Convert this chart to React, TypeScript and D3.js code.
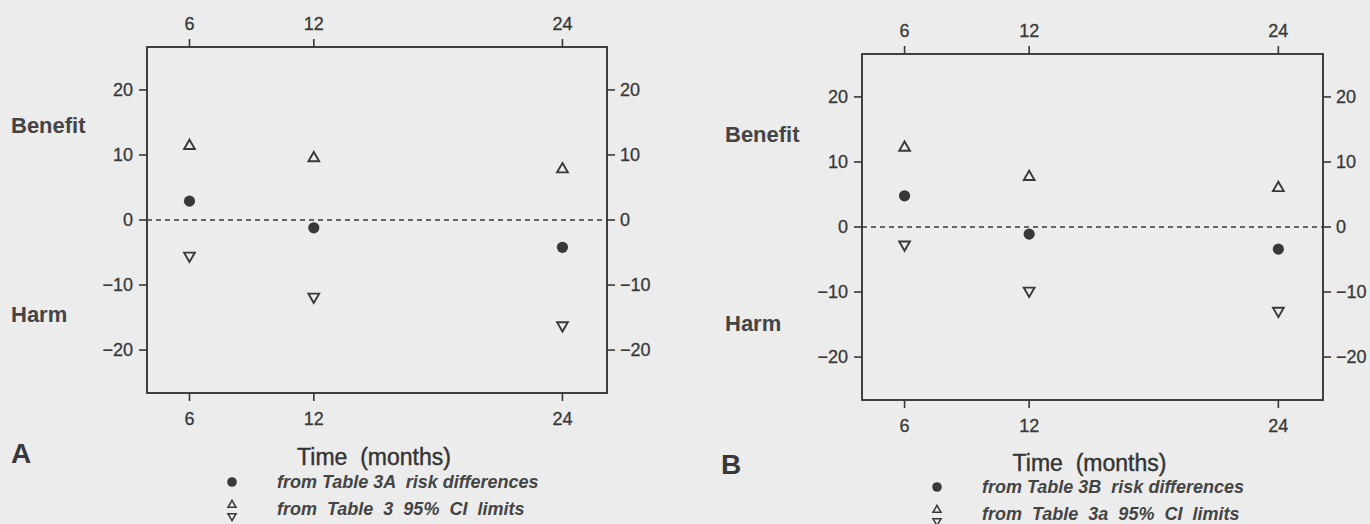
import React from "react";
import * as d3 from "d3";

const width = 1370;
const height = 524;
const ink = "#383838";
const paper = "#ececec";

// data
const months = [6, 12, 24];
const yTicks = [-20, -10, 0, 10, 20];

const riskDiffA = [2.9, -1.2, -4.2];
const ciUpperA = [11.4, 9.5, 7.8];
const ciLowerA = [-5.5, -11.8, -16.2];

const riskDiffB = [4.8, -1.1, -3.4];
const ciUpperB = [12.2, 7.7, 6.0];
const ciLowerB = [-2.7, -9.8, -12.9];

const panelLabels = ["A", "B"];
const legendRiskA = "from Table 3A  risk differences";
const legendCiA = "from  Table  3  95%  CI  limits";
const legendRiskB = "from Table 3B  risk differences";
const legendCiB = "from  Table  3a  95%  CI  limits";

const xDomain = [3.95, 26.15];
const yDomain = [-26.6, 26.6];

const fmt = (v) => (v < 0 ? "\u2212" + Math.abs(v) : String(v));

const triUp = d3.symbol().type(d3.symbolTriangle).size(50)();
const triSmall = d3.symbol().type(d3.symbolTriangle).size(28)();

function Panel(props) {
  const { box, label, risk, upper, lower, legend1, legend2, lab, leg } = props;
  const x = d3.scaleLinear().domain(xDomain).range([box.left, box.right]);
  const y = d3.scaleLinear().domain(yDomain).range([box.bottom, box.top]);
  const sans = "'Liberation Sans', Arial, sans-serif";
  const tickText = { fontSize: 18, stroke: ink, strokeWidth: 0.3 };

  return (
    <g fill={ink} fontFamily={sans}>
      {/* frame */}
      <rect
        x={box.left}
        y={box.top}
        width={box.right - box.left}
        height={box.bottom - box.top}
        fill="none"
        stroke={ink}
        strokeWidth={1.9}
      />
      {/* zero line */}
      <line
        x1={box.left}
        x2={box.right}
        y1={y(0)}
        y2={y(0)}
        stroke={ink}
        strokeWidth={1.7}
        strokeDasharray="5,4"
      />
      {/* y ticks left and right */}
      {yTicks.map((t) => (
        <g key={"y" + t}>
          <line x1={box.left - 8} x2={box.left} y1={y(t)} y2={y(t)} stroke={ink} strokeWidth={1.6} />
          <text x={box.left - 14} y={y(t)} dy="0.35em" textAnchor="end" {...tickText}>
            {fmt(t)}
          </text>
          <line x1={box.right} x2={box.right + 8} y1={y(t)} y2={y(t)} stroke={ink} strokeWidth={1.6} />
          <text x={box.right + 13} y={y(t)} dy="0.35em" textAnchor="start" {...tickText}>
            {fmt(t)}
          </text>
        </g>
      ))}
      {/* x ticks top and bottom */}
      {months.map((m) => (
        <g key={"x" + m}>
          <line x1={x(m)} x2={x(m)} y1={box.top - 8} y2={box.top} stroke={ink} strokeWidth={1.6} />
          <text x={x(m)} y={box.top - 17} textAnchor="middle" {...tickText}>
            {m}
          </text>
          <line x1={x(m)} x2={x(m)} y1={box.bottom} y2={box.bottom + 8} stroke={ink} strokeWidth={1.6} />
          <text x={x(m)} y={box.bottom + 32} textAnchor="middle" {...tickText}>
            {m}
          </text>
        </g>
      ))}
      {/* side words */}
      <text x={lab.x} y={y(lab.benefit)} dy="0.35em" fontSize={22} fontWeight="bold" fill="#444">
        Benefit
      </text>
      <text x={lab.x} y={y(lab.harm)} dy="0.35em" fontSize={22} fontWeight="bold" fill="#444">
        Harm
      </text>
      {/* marks */}
      {months.map((m, i) => (
        <g key={"m" + m}>
          <path d={triUp} transform={`translate(${x(m)},${y(upper[i])})`} fill="none" stroke={ink} strokeWidth={1.9} />
          <circle cx={x(m)} cy={y(risk[i])} r={5.6} fill={ink} />
          <path
            d={triUp}
            transform={`translate(${x(m)},${y(lower[i])}) rotate(180)`}
            fill="none"
            stroke={ink}
            strokeWidth={1.9}
          />
        </g>
      ))}
      {/* panel letter and axis title */}
      <text x={lab.letterX} y={lab.letterY} fontSize={28} fontWeight="bold">
        {label}
      </text>
      <text
        x={(box.left + box.right) / 2 - 3}
        y={lab.titleY}
        textAnchor="middle"
        fontSize={23}
        fill="#333"
        stroke="#333"
        strokeWidth={0.4}
      >
        {"Time\u00a0\u00a0(months)"}
      </text>
      {/* legend */}
      <circle cx={leg.x} cy={leg.y1 - 6} r={4.8} fill={ink} />
      <text x={leg.tx} y={leg.y1} fontSize={18} fontWeight="bold" fontStyle="italic" fill="#444" xmlSpace="preserve">
        {legend1}
      </text>
      <path d={triSmall} transform={`translate(${leg.x},${leg.y2 - 10})`} fill="none" stroke={ink} strokeWidth={1.5} />
      <path d={triSmall} transform={`translate(${leg.x},${leg.y2 + 1}) rotate(180)`} fill="none" stroke={ink} strokeWidth={1.5} />
      <text x={leg.tx} y={leg.y2} fontSize={18} fontWeight="bold" fontStyle="italic" fill="#444" xmlSpace="preserve">
        {legend2}
      </text>
    </g>
  );
}

export default function App() {
  return (
    <svg width={width} height={height} style={{ position: "absolute", left: 0, top: 0 }}>
      <rect x={0} y={0} width={width} height={height} fill={paper} />
      <Panel
        box={{ left: 147, right: 607, top: 47, bottom: 393 }}
        label={panelLabels[0]}
        risk={riskDiffA}
        upper={ciUpperA}
        lower={ciLowerA}
        legend1={legendRiskA}
        legend2={legendCiA}
        lab={{ x: 11, benefit: 14.5, harm: -14.5, letterX: 11, letterY: 463, titleY: 465 }}
        leg={{ x: 232, tx: 277, y1: 488, y2: 515 }}
      />
      <Panel
        box={{ left: 862, right: 1323, top: 54, bottom: 400 }}
        label={panelLabels[1]}
        risk={riskDiffB}
        upper={ciUpperB}
        lower={ciLowerB}
        legend1={legendRiskB}
        legend2={legendCiB}
        lab={{ x: 725, benefit: 14.3, harm: -14.8, letterX: 721, letterY: 474, titleY: 471 }}
        leg={{ x: 937, tx: 982, y1: 493, y2: 520 }}
      />
    </svg>
  );
}
